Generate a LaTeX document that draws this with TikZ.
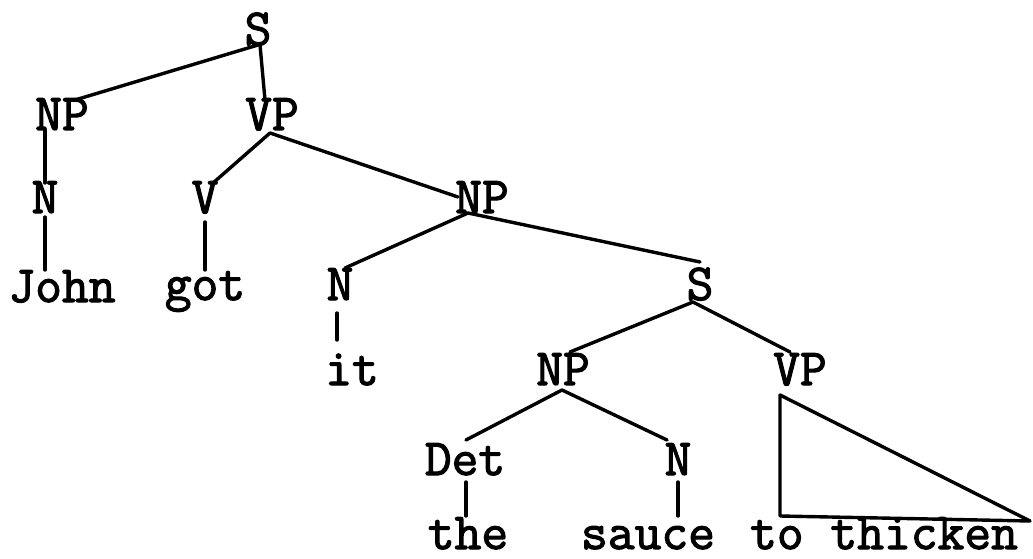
\documentclass[tikz,border=0pt]{standalone}
\usepackage{fontspec}
\newfontfamily\treefont[FakeBold=2.2]{Latin Modern Mono}
\begin{document}
\begin{tikzpicture}[x=1pt,y=-1pt,
  lab/.style={anchor=base,inner sep=0pt,font=\fontsize{52}{52}\selectfont\treefont},
  br/.style={line width=3.4pt,line cap=round,line join=round}]
\useasboundingbox (0,0) rectangle (1033,559);
% nodes
\node[lab] (S0) at (258,45) {S};
\node[lab] (NP1) at (62,130) {NP};
\node[lab] (VP1) at (272,130) {VP};
\node[lab] (N2) at (45,213) {N};
\node[lab] (V2) at (205,213) {V};
\node[lab] (NP2) at (482,213) {NP};
\node[lab] (John) at (62,302) {John};
\node[lab] (got) at (205,300) {got};
\node[lab] (N3) at (340,300) {N};
\node[lab] (S3) at (700,300) {S};
\node[lab] (it) at (352,385) {it};
\node[lab] (NP4) at (563,385) {NP};
\node[lab] (VP4) at (800,385) {VP};
\node[lab] (Det) at (465,475) {Det};
\node[lab] (N5) at (678,475) {N};
\node[lab] (the) at (468,549) {the};
\node[lab] (sauce) at (648,549) {sauce};
\node[lab] (tothick) at (884,549) {to thicken};
% branches
\draw[br] ([shift={(0,0)}]S0.base) -- ([shift={(13,-30)}]NP1.base);
\draw[br] ([shift={(2,0)}]S0.base) -- ([shift={(-7,-30)}]VP1.base);
\draw[br] ([shift={(-17,0)}]NP1.base) -- ([shift={(0,-30)}]N2.base);
\draw[br] ([shift={(-2,3)}]VP1.base) -- ([shift={(8,-30)}]V2.base);
\draw[br] ([shift={(-2,3)}]VP1.base) -- ([shift={(-24,-16)}]NP2.base);
\draw[br] ([shift={(0,4)}]N2.base) -- ([shift={(-17,-32)}]John.base);
\draw[br] ([shift={(0,9)}]V2.base) -- ([shift={(0,-30)}]got.base);
\draw[br] ([shift={(-14,0)}]NP2.base) -- ([shift={(5,-32)}]N3.base);
\draw[br] ([shift={(-14,0)}]NP2.base) -- ([shift={(0,-38)}]S3.base);
\draw[br] ([shift={(-3,13)}]N3.base) -- ([shift={(-15,-45)}]it.base);
\draw[br] ([shift={(-7,2)}]S3.base) -- ([shift={(7,-33)}]NP4.base);
\draw[br] ([shift={(-7,2)}]S3.base) -- ([shift={(-10,-33)}]VP4.base);
\draw[br] ([shift={(-1,5)}]NP4.base) -- ([shift={(1,-35)}]Det.base);
\draw[br] ([shift={(-1,5)}]NP4.base) -- ([shift={(-11,-35)}]N5.base);
\draw[br] ([shift={(1,7)}]Det.base) -- ([shift={(-2,-33)}]the.base);
\draw[br] ([shift={(0,7)}]N5.base) -- ([shift={(30,-33)}]sauce.base);
\draw[br] ([shift={(-20,10)}]VP4.base) -- ([shift={(-104,-33)}]tothick.base)
  -- ([shift={(146,-28)}]tothick.base) -- cycle;
\end{tikzpicture}
\end{document}
